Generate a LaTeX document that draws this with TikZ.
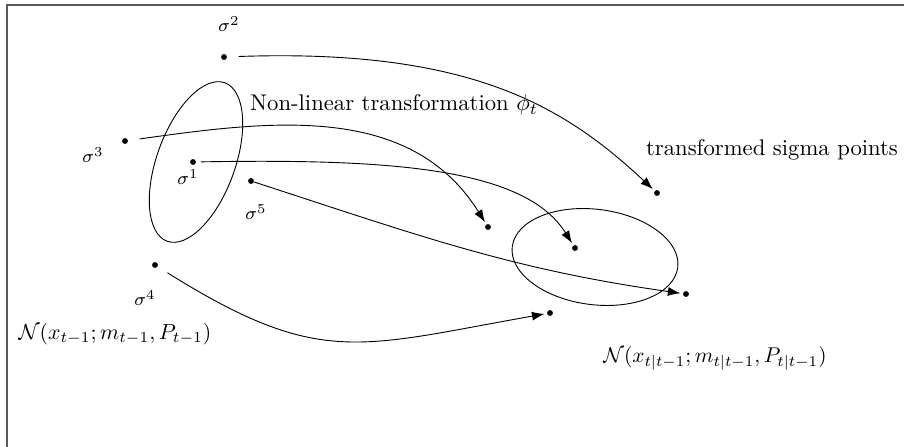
\documentclass[tikz,border=0pt]{standalone}
\usepackage{amsmath}
\usepackage{tikz}
\usetikzlibrary{arrows.meta, positioning}

\begin{document}
\begin{tikzpicture}[x=0.0155cm, y=0.0155cm,
    pt/.style={circle, fill=black, inner sep=0pt, minimum size=2.6pt},
    sig/.style={font=\footnotesize, inner sep=1pt},
    map/.style={-{Latex[length=5.5pt, width=4pt]}, shorten >=1pt}
  ]
  \useasboundingbox (0,0) rectangle (904,446);
  \draw[gray!70!black, line width=0.7pt] (7,-5) -- (7,441) -- (910,441);

  \node[pt] (s1) at (193,284) {};
  \node[pt] (s2) at (224,389) {};
  \node[pt] (s3) at (125,305) {};
  \node[pt] (s4) at (155,181) {};
  \node[pt] (s5) at (251,265) {};

  \node[sig] (l1) at (188,269) {$\sigma^1$};
  \node[sig] (l2) at (229,422) {$\sigma^2$};
  \node[sig] (l3) at (93,291) {$\sigma^3$};
  \node[sig] (l4) at (145,148) {$\sigma^4$};
  \node[sig] (l5) at (256,234) {$\sigma^5$};

  \node[pt] (t1) at (575,198) {};
  \node[pt] (t2) at (657,253) {};
  \node[pt] (t3) at (488,219) {};
  \node[pt] (t4) at (550,133) {};
  \node[pt] (t5) at (686,152) {};

  \draw (196,284) ellipse [x radius=84.3, y radius=39.1, rotate=70];
  \draw (595,189) ellipse [x radius=83.4, y radius=47.7, rotate=-7.2];

  \node (phi) at (394,341) {Non-linear transformation $\phi_t$};
  \node (tsp) at (772,296) {transformed sigma points};
  \node[scale=0.96] (prior) at (115,112) {$\mathcal{N}(x_{t-1}; m_{t-1}, P_{t-1})$};
  \node[scale=0.94] (pred) at (715,88) {$\mathcal{N}(x_{t|t-1}; m_{t|t-1}, P_{t|t-1})$};

  \draw[map, shorten <=5pt] (s2) to[out=2, in=137, out looseness=1.4, in looseness=0.7] (t2);
  \draw[map, shorten <=5pt] (s3) to[out=8, in=122] (t3);
  \draw[map, shorten <=2pt] (s1) to[out=1, in=122, out looseness=1.3, in looseness=0.6] (t1);
  \draw[map] (s5) to[out=-18, in=172] (t5);
  \draw[map, shorten <=5pt] (s4) to[out=-32, in=190, looseness=1.25] (t4);
\end{tikzpicture}
\end{document}
